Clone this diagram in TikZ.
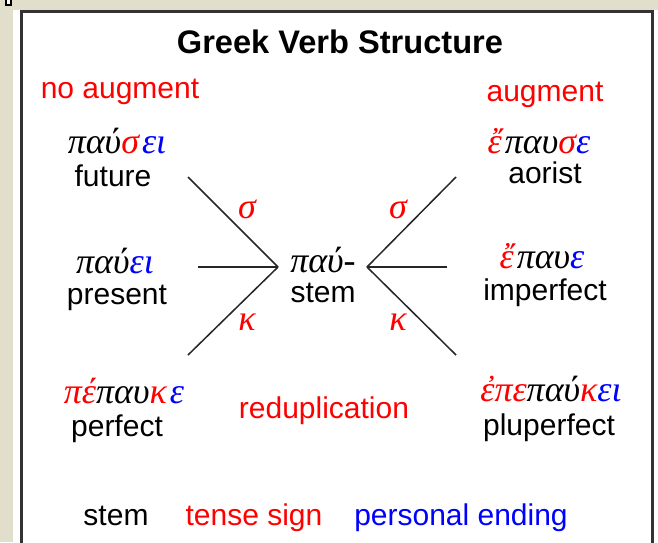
\documentclass[tikz,border=0pt]{standalone}
\usepackage{fontspec}
\setmainfont{Liberation Sans}
\newfontfamily\greekfont{Liberation Serif}

\definecolor{gvframe}{RGB}{225,222,203}
\definecolor{gvred}{RGB}{255,0,0}
\definecolor{gvblue}{RGB}{0,0,255}
\newcommand{\tns}[1]{\textcolor{gvred}{#1}}
\newcommand{\pen}[1]{\textcolor{gvblue}{#1}}

\begin{document}
\begin{tikzpicture}[
    x=0.5pt, y=-0.5pt,
    gv title/.style={
        font=\fontsize{16.3}{19}\selectfont\bfseries,
        inner sep=0pt, anchor=base
    },
    gv word/.style={
        font=\fontsize{15}{18}\selectfont,
        inner sep=0pt, anchor=base
    },
    gv greek/.style={
        font=\fontsize{18}{21}\selectfont\greekfont\itshape,
        inner sep=0pt, anchor=base
    },
    gv branch/.style={
        line width=0.75pt,
        draw=black!85
    }
]
    % Rahmen und Hintergrund
    \useasboundingbox (0,0) rectangle (658,542);
    \fill[white] (0,0) rectangle (658,542);
    \fill[gvframe] (0,0) rectangle (13,542);
    \fill[gvframe] (0,0) rectangle (658,10);
    \draw[line width=0.6pt, fill=white] (6,-2) rectangle (11,5);
    \draw[line width=1.5pt, draw=black!80] (21.5,11.5) rectangle (652,570);

    % Überschriften
    \node[gv title] (title) at (340,53) {Greek Verb Structure};
    \node[gv word, text=gvred] (noaug) at (120,98) {no augment};
    \node[gv word, text=gvred] (aug) at (545,101) {augment};

    % Stamm in der Mitte
    \node[gv greek] (stemgr) at (323,272) {παύ-};
    \node[gv word] (stem) at (323,302) {stem};

    % Formen ohne Augment (links)
    \node[gv greek] (futgr) at (117,153) {παύ\tns{σ}\kern1.5pt\pen{ει}};
    \node[gv word] (future) at (113,186) {future};
    \node[gv greek] (presgr) at (115,273) {παύ\pen{ει}};
    \node[gv word] (present) at (117,304) {present};
    \node[gv greek] (perfgr) at (124,403) {\tns{πέ}παυ\tns{κ}\kern1.5pt\pen{ε}};
    \node[gv word] (perfect) at (117,436) {perfect};

    % Formen mit Augment (rechts)
    \node[gv greek] (aorgr) at (539,153) {\tns{ἔ}\kern1.5pt παυ\tns{σ}\pen{ε}};
    \node[gv word] (aorist) at (545,183) {aorist};
    \node[gv greek] (impgr) at (542,268) {\tns{ἔ}\kern1.5pt παυ\pen{ε}};
    \node[gv word] (imperfect) at (545,300) {imperfect};
    \node[gv greek] (plupgr) at (551,401) {\tns{ἐπε}παύ\tns{κ}\pen{ει}};
    \node[gv word] (pluperfect) at (549,435) {pluperfect};

    \node[gv word, text=gvred] (redup) at (324,418) {reduplication};

    % Verzweigungen
    \coordinate (lhub) at (278,267);
    \coordinate (rhub) at (367,267);
    \coordinate (lup) at (188,177);
    \coordinate (lmid) at (198,267);
    \coordinate (llow) at (188,355);
    \coordinate (rup) at (456,177);
    \coordinate (rmid) at (447,267);
    \coordinate (rlow) at (456,355);
    \foreach \side in {l,r} {
        \foreach \arm in {up,mid,low}
            \draw[gv branch] (\side\arm) -- (\side hub);
    }

    % Tempuszeichen an den Zweigen
    \foreach \side/\xpos in {l/247,r/398} {
        \node[gv greek, text=gvred] (\side sigma) at (\xpos,218) {σ};
        \node[gv greek, text=gvred] (\side kappa) at (\xpos,330) {κ};
    }

    % Legende
    \node[gv word] (keystem) at (116,525) {stem};
    \node[gv word, text=gvred] (keytense) at (254,525) {tense sign};
    \node[gv word, text=gvblue] (keyending) at (461,525) {personal ending};
\end{tikzpicture}
\end{document}
